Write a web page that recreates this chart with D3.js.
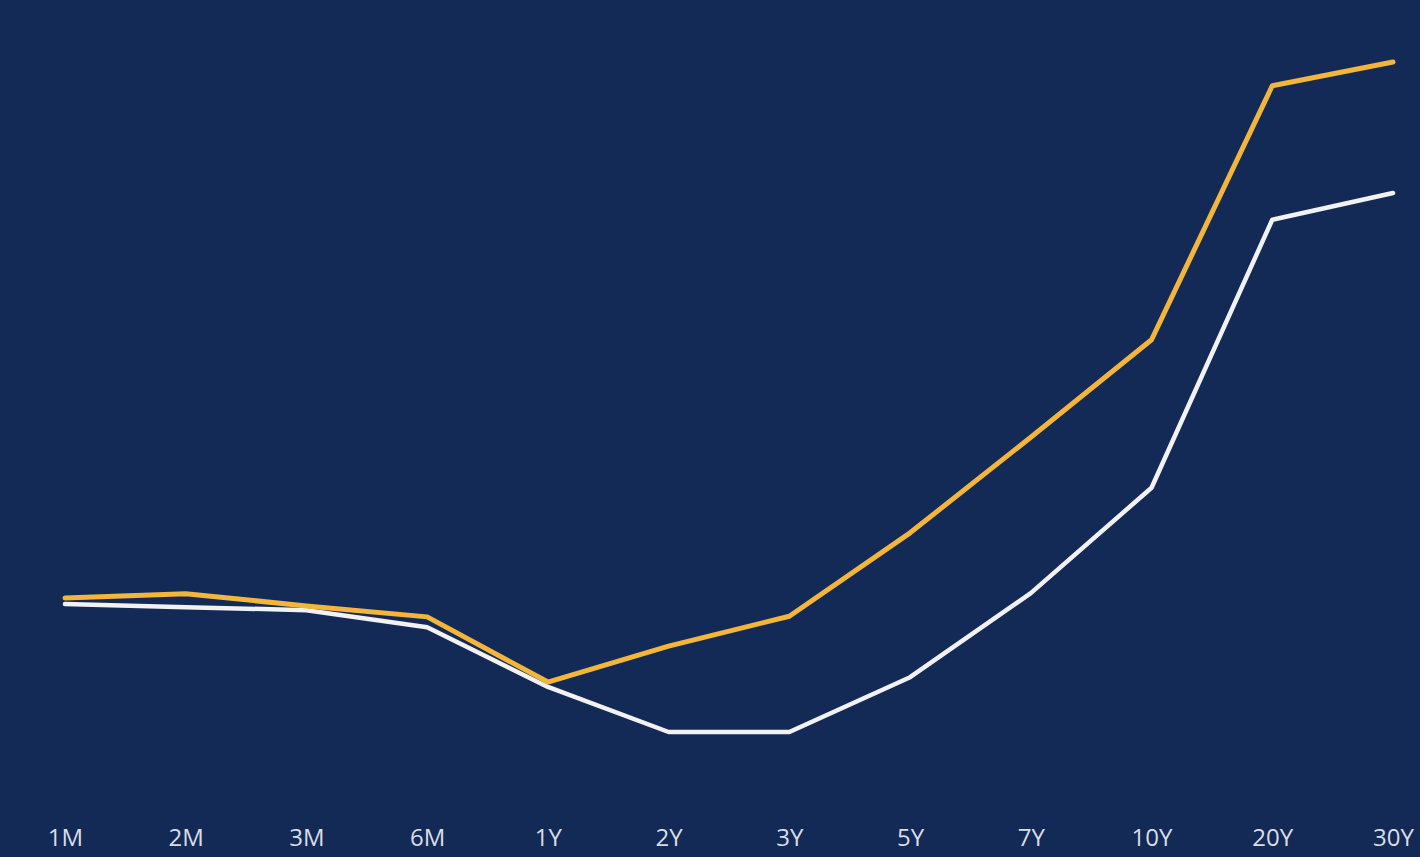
<!DOCTYPE html>
<html>
<head>
<meta charset="utf-8">
<script src="https://cdn.jsdelivr.net/npm/d3@7"></script>
<style>
  html, body { margin: 0; padding: 0; background: #142a56; overflow: hidden; }
  svg { display: block; }
  .tick text { fill: #d9dde6; font-family: "Open Sans", "Noto Sans", sans-serif; font-size: 24px; }
</style>
</head>
<body>
<div id="chart"></div>
<script>
// maturities along the curve
const tenors = ['1M', '2M', '3M', '6M', '1Y', '2Y', '3Y', '5Y', '7Y', '10Y', '20Y', '30Y'];
// yields (%)
const goldCurve = [4.020, 4.027, 4.007, 3.989, 3.882, 3.941, 3.990, 4.127, 4.284, 4.444, 4.861, 4.900];
const whiteCurve = [4.010, 4.005, 4.000, 3.972, 3.874, 3.800, 3.800, 3.890, 4.028, 4.201, 4.641, 4.685];

const width = 1420, height = 857;

const svg = d3.select('#chart')
  .append('svg')
  .attr('width', width)
  .attr('height', height);

svg.append('rect')
  .attr('width', width)
  .attr('height', height)
  .attr('fill', '#142a56');

const x = d3.scalePoint()
  .domain(tenors)
  .range([65, 1393]);

const y = d3.scaleLinear()
  .domain([3.80, 4.90])
  .range([732, 62]);

// x labels only, no axis line or ticks
const xAxis = svg.append('g')
  .attr('transform', 'translate(0, 846)')
  .call(d3.axisBottom(x).tickSize(0).tickPadding(0));
xAxis.select('.domain').remove();
xAxis.selectAll('text').attr('dy', 0).attr('y', 0);

const line = d3.line()
  .x((d, i) => x(tenors[i]))
  .y(d => y(d));

svg.append('path')
  .datum(whiteCurve)
  .attr('fill', 'none')
  .attr('stroke', '#f2f2f2')
  .attr('stroke-width', 4.5)
  .attr('stroke-linecap', 'round')
  .attr('stroke-linejoin', 'round')
  .attr('d', line);

svg.append('path')
  .datum(goldCurve)
  .attr('fill', 'none')
  .attr('stroke', '#f3b63b')
  .attr('stroke-width', 5)
  .attr('stroke-linecap', 'round')
  .attr('stroke-linejoin', 'round')
  .attr('d', line);
</script>
</body>
</html>
